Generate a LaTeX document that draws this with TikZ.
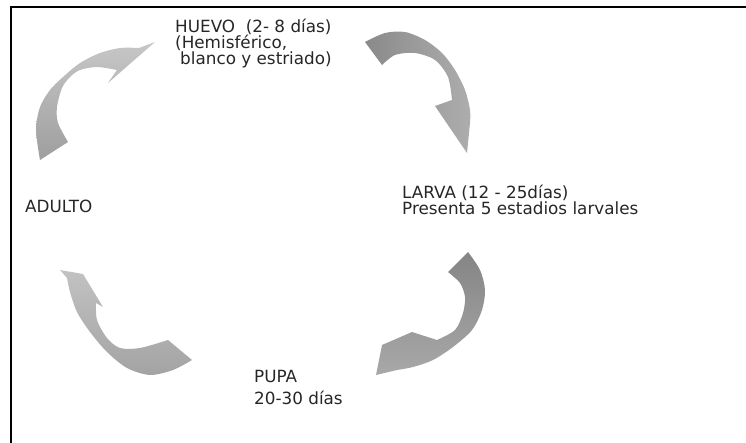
\documentclass[tikz,border=0pt]{standalone}
\usepackage{fontspec}
\setmainfont{DejaVu Sans}
\usetikzlibrary{positioning}
\tikzset{
	stage/.style={anchor=north west, inner sep=0pt, align=left, text=black!85, font=\fontsize{16.8}{16}\selectfont},
	cyclearrow/.style={draw=none, shading angle=#1},
}

\begin{document}
\begin{tikzpicture}[x=1pt,y=-1pt]
			\useasboundingbox (0,0) rectangle (746,443);
			\draw[line width=2.2pt] (746,7) -- (11,7) -- (11,443);
			\node[stage] (huevo) at (175,19) {HUEVO\ \ (2- 8 días)\\(Hemisférico,\\\hspace{0.3em}blanco y estriado)};
			\node[stage] (larva) at (402,185) {LARVA (12 - 25días)\\Presenta 5 estadios larvales};
			\node[stage, font=\fontsize{16.8}{22}\selectfont] (pupa) at (254,370) {PUPA\\20-30 días};
			\node[stage] (adulto) at (25,200) {ADULTO};
			\path[cyclearrow=0, top color=black!22, bottom color=black!38]
			(40,160) -- plot[smooth] coordinates {(40,160) (36,130) (40,107) (50,90) (63,77) (80,63) (100,53) (120,48) (139,48)}
			-- (155,42) -- (108,83) -- plot[smooth] coordinates {(117,70) (97,67) (80,70) (70,77) (62,88) (57,107) (58,123) (68,142)} -- cycle;
			\path[cyclearrow=0, left color=black!46, right color=black!32]
			(365,42) -- plot[smooth] coordinates {(365,42) (385,33) (405,32) (425,40) (442,53) (455,70) (465,90) (470,110) (470,123)}
			-- (467,153) -- (435,106) -- plot[smooth] coordinates {(452,100) (448,77) (435,60) (415,53) (395,55) (382,65)} -- cycle;
			\path[cyclearrow=0, top color=black!48, bottom color=black!34]
			(468,252) -- plot[smooth] coordinates {(468,252) (480,270) (485,290) (482,310) (472,330) (453,347) (433,360) (413,367) (397,370)}
			-- (376,375) -- (382,345) -- (412,332) -- plot[smooth] coordinates {(437,340) (455,330) (463,313) (465,297) (460,283) (448,272)} -- cycle;
			\path[cyclearrow=0, top color=black!24, bottom color=black!36]
			(192,360) -- plot[smooth] coordinates {(192,360) (173,370) (150,375) (127,368) (107,352) (90,332) (77,312) (70,292) (67,278)}
			-- (60,270) -- (83,274) -- (103,307) -- plot[smooth] coordinates {(96,303) (97,320) (107,338) (120,348) (140,348) (168,340)} -- cycle;
		\end{tikzpicture}
\end{document}
